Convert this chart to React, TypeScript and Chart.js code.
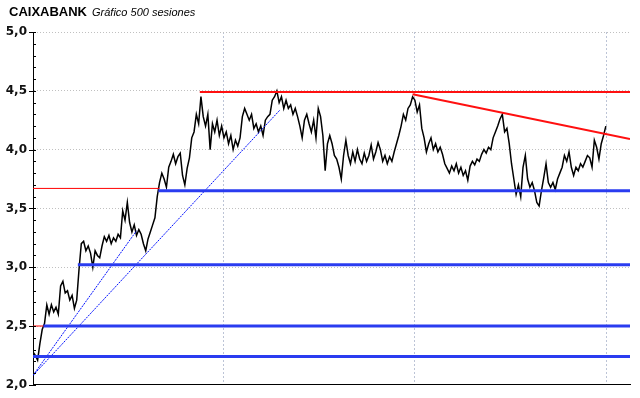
import React, { useEffect, useRef } from "react";
import { Chart, registerables } from "chart.js";

Chart.register(...registerables);

// Session index step between readings (every 2nd session of 500)
const sessionStep = 2;

// Closing prices (one reading every 2 sessions)
const closes: number[] = [
  2.28, 2.25, 2.21, 2.35, 2.47, 2.52, 2.68, 2.6, 2.68, 2.62,
  2.66, 2.6, 2.84, 2.88, 2.78, 2.8, 2.72, 2.76, 2.65, 2.72,
  2.98, 3.2, 3.22, 3.14, 3.18, 3.12, 3.0, 3.14, 3.1, 3.08,
  3.18, 3.26, 3.22, 3.27, 3.2, 3.25, 3.22, 3.28, 3.25, 3.48,
  3.4, 3.55, 3.38, 3.3, 3.36, 3.27, 3.32, 3.28, 3.2, 3.14,
  3.24, 3.3, 3.36, 3.42, 3.6, 3.72, 3.8, 3.75, 3.68, 3.85,
  3.9, 3.96, 3.88, 3.94, 3.97, 3.78, 3.7, 3.84, 3.93, 4.1,
  4.15, 4.3, 4.22, 4.45, 4.28, 4.2, 4.3, 4.0, 4.22, 4.15,
  4.25, 4.12, 4.2, 4.1, 4.15, 4.05, 4.12, 4.0, 4.08, 4.03,
  4.1, 4.28, 4.35, 4.3, 4.25, 4.3, 4.18, 4.22, 4.15, 4.2,
  4.12, 4.25, 4.28, 4.3, 4.42, 4.45, 4.5, 4.4, 4.45, 4.35,
  4.42, 4.35, 4.38, 4.3, 4.35, 4.28, 4.2, 4.1, 4.25, 4.3,
  4.22, 4.15, 4.25, 4.1, 4.35, 4.28, 4.12, 3.82, 4.05, 4.12,
  4.05, 3.95, 3.92, 3.85, 3.75, 3.95, 4.08, 3.95, 3.88, 3.98,
  3.9, 4.0, 3.92, 3.88, 3.97, 3.9, 3.95, 4.04, 3.92, 3.98,
  4.06, 4.0, 3.9, 3.95, 3.88, 3.94, 3.9, 3.98, 4.05, 4.12,
  4.2, 4.3, 4.25, 4.35, 4.38, 4.45, 4.42, 4.32, 4.38, 4.18,
  4.1, 3.98, 4.05, 4.1, 4.0, 4.05, 3.98, 4.02, 3.96, 3.88,
  3.84, 3.8, 3.86, 3.82, 3.88, 3.8, 3.85, 3.78, 3.82, 3.74,
  3.86, 3.9, 3.87, 3.92, 3.9, 3.96, 4.0, 3.97, 4.02, 4.0,
  4.1, 4.15, 4.2, 4.26, 4.3, 4.15, 4.18, 4.05, 3.88, 3.75,
  3.62, 3.7, 3.6, 3.85, 3.95, 3.75, 3.68, 3.72, 3.65, 3.55,
  3.52, 3.65, 3.76, 3.88, 3.72, 3.68, 3.72, 3.66, 3.75, 3.8,
  3.85, 3.95, 3.9, 3.98, 3.85, 3.78, 3.85, 3.82, 3.88, 3.85,
  3.9, 3.95, 3.93, 3.85, 4.08, 4.02, 3.92, 4.05, 4.12, 4.2,
];

// X range (sessions) and vertical grid sessions
const xMax = 519;
const xGridSessions = [166, 332, 499];

// Y tick labels
const yMin = 2;
const yMax = 5;
const yLabels = ["2,0", "2,5", "3,0", "3,5", "4,0", "4,5", "5,0"];

// Trend / support / resistance lines: [x1, y1, x2, y2]
const redResistance: number[] = [145, 4.49, 519, 4.49];
const redDownTrend: number[] = [330, 4.47, 519, 4.09];
const redThinA: number[] = [0, 3.67, 110, 3.67];
const redThinB: number[] = [0, 2.5, 9, 2.5];
const blueSupports: number[][] = [
  [109, 3.65, 519, 3.65],
  [39, 3.02, 519, 3.02],
  [9, 2.5, 519, 2.5],
  [0, 2.24, 519, 2.24],
];
const blueDotted: number[][] = [
  [0, 2.08, 215, 4.34],
  [0, 2.08, 90, 3.31],
];

const seg = (s: number[]) => [
  { x: s[0], y: s[1] },
  { x: s[2], y: s[3] },
];

export default function App() {
  const ref = useRef<HTMLCanvasElement | null>(null);

  useEffect(() => {
    document.body.style.margin = "0";
    const canvas = ref.current;
    if (!canvas) return;

    const price = closes.map((v, i) => ({ x: i * sessionStep, y: v }));

    const lineDs = (s: number[], color: string, width: number, dash: number[] = []) => ({
      type: "line" as const,
      data: seg(s),
      borderColor: color,
      borderWidth: width,
      borderDash: dash,
      pointRadius: 0,
      order: 0,
    });

    const datasets: any[] = [
      lineDs(redResistance, "#ff1010", 2),
      lineDs(redDownTrend, "#ff1010", 2),
      lineDs(redThinA, "#ff0000", 1),
      lineDs(redThinB, "#ff0000", 1),
      ...blueSupports.map((s) => lineDs(s, "#2a3cf0", 3)),
      ...blueDotted.map((s) => lineDs(s, "#0010ff", 1, [2, 1])),
      {
        type: "line",
        data: price,
        borderColor: "#000000",
        borderWidth: 1.5,
        pointRadius: 0,
        tension: 0,
        order: 5,
      },
    ];

    const titlePlugin = {
      id: "titleText",
      afterDraw(chart: any) {
        const ctx = chart.ctx;
        ctx.save();
        ctx.fillStyle = "#000";
        ctx.textBaseline = "alphabetic";
        ctx.font = "bold 13px 'Liberation Sans', Arial, sans-serif";
        ctx.fillText("CAIXABANK", 9, 16);
        ctx.font = "italic 11px 'Liberation Sans', Arial, sans-serif";
        ctx.fillText("Gráfico 500 sesiones", 92, 16);
        ctx.restore();
      },
    };

    const ticksPlugin = {
      id: "minorTicks",
      afterDraw(chart: any) {
        const ctx = chart.ctx;
        const y = chart.scales.y;
        const left = chart.chartArea.left;
        ctx.save();
        ctx.strokeStyle = "#000";
        ctx.lineWidth = 1;
        for (let k = 0; k <= 30; k++) {
          const v = yMin + k * 0.1;
          const py = Math.round(y.getPixelForValue(v)) + 0.5;
          const major = k % 5 === 0;
          ctx.beginPath();
          ctx.moveTo(major ? left - 4 : left, py);
          ctx.lineTo(left + 3, py);
          ctx.stroke();
        }
        ctx.restore();
      },
    };

    const chart = new Chart(canvas, {
      type: "line",
      data: { datasets },
      plugins: [titlePlugin, ticksPlugin],
      options: {
        animation: false,
        responsive: false,
        maintainAspectRatio: false,
        layout: { padding: { top: 32, right: 10, left: 0, bottom: 0 } },
        plugins: { legend: { display: false }, tooltip: { enabled: false } },
        scales: {
          x: {
            type: "linear",
            min: 0,
            max: xMax,
            afterBuildTicks: (scale: any) => {
              scale.ticks = xGridSessions.map((v) => ({ value: v }));
            },
            afterFit: (scale: any) => {
              scale.height = 12;
            },
            ticks: { display: false },
            grid: {
              drawTicks: false,
              color: "#bcc4d6",
              lineWidth: 1,
            },
            border: { display: true, color: "#000", width: 1, dash: [2, 2] },
          },
          y: {
            type: "linear",
            min: yMin,
            max: yMax,
            afterBuildTicks: (scale: any) => {
              scale.ticks = yLabels.map((_, i) => ({ value: yMin + i * 0.5 }));
            },
            afterFit: (scale: any) => {
              scale.width = 33;
            },
            ticks: {
              padding: 6,
              color: "#111",
              font: { family: "'DejaVu Sans', Verdana, sans-serif", size: 12, weight: "bold" },
              callback: (v: any) => {
                const idx = Math.round((Number(v) - yMin) / 0.5);
                return yLabels[idx] ?? "";
              },
            },
            grid: {
              drawTicks: false,
              color: (c: any) => (c.tick && c.tick.value === yMin ? "rgba(0,0,0,0)" : "#c0c0c0"),
              lineWidth: 1,
            },
            border: { display: true, color: "#000", width: 1, dash: [1, 2] },
          },
        },
      } as any,
    });

    return () => chart.destroy();
  }, []);

  return (
    <div style={{ width: 640, height: 398 }}>
      <canvas ref={ref} width={640} height={398} style={{ display: "block" }} />
    </div>
  );
}
